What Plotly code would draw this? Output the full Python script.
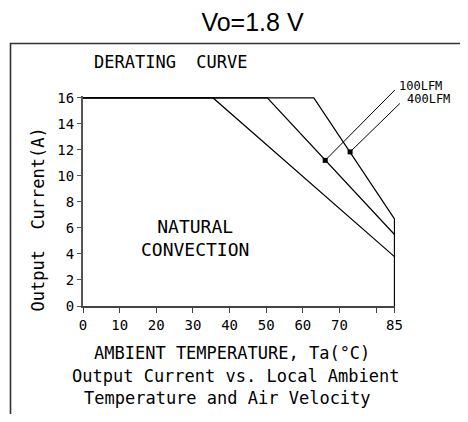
import plotly.graph_objects as go

# ---- data ----
nat_temp = [0, 35.5, 85]
nat_curr = [16, 16, 3.8]
lfm100_temp = [0, 50.3, 85]
lfm100_curr = [16, 16, 5.5]
lfm400_temp = [0, 63.0, 85, 85]
lfm400_curr = [16, 16, 6.7, 0]

dot_temp = [66.1, 72.9]
dot_curr = [11.2, 11.85]
leader_end_temp = [85.5, 86.9]
leader_end_curr = [16.72, 15.69]
leader_labels = ["100LFM", "400LFM"]

x_tickvals = [0, 10, 20, 30, 40, 50, 60, 70, 80, 85]
x_ticktext = ["0", "10", "20", "30", "40", "50", "60", "70", "", "85"]
y_tickvals = [0, 2, 4, 6, 8, 10, 12, 14, 16]

# page body has an 8px margin, so figure coords = page coords - 8;
# figure size chosen so the page does not overflow the 468x422 window
OFF = 8
W, H = 468 - 2 * OFF, 422 - 2 * OFF
L, T = 83 - OFF, 96 - OFF
PW, PH = 312, 210
R, B = W - L - PW, H - T - PH


def px(x):
    return (x - OFF - L) / PW


def py(y):
    return (T + PH - (y - OFF)) / PH


CAD = "DejaVu Sans Mono, monospace"
line_style = dict(color="black", width=1.2)

fig = go.Figure()
for xs, ys in [(nat_temp, nat_curr), (lfm100_temp, lfm100_curr), (lfm400_temp, lfm400_curr)]:
    fig.add_trace(go.Scatter(x=xs, y=ys, mode="lines", line=line_style,
                             showlegend=False, hoverinfo="skip"))

fig.add_trace(go.Scatter(x=dot_temp, y=dot_curr, mode="markers",
                         marker=dict(color="black", size=5, symbol="square"),
                         showlegend=False, hoverinfo="skip", cliponaxis=False))

annotations = []
for i in range(len(dot_temp)):
    annotations.append(dict(x=dot_temp[i], y=dot_curr[i], xref="x", yref="y",
                            ax=leader_end_temp[i], ay=leader_end_curr[i],
                            axref="x", ayref="y", text="", showarrow=True,
                            arrowhead=0, arrowwidth=1, arrowcolor="black",
                            standoff=0, startstandoff=0))
label_pos = [(397, 86), (405, 99)]
for (lx, ly), t in zip(label_pos, leader_labels):
    annotations.append(dict(x=px(lx), y=py(ly), xref="paper", yref="paper",
                            text=t, showarrow=False, xanchor="left", yanchor="middle",
                            font=dict(family=CAD, size=12, color="black")))

annotations += [
    dict(x=px(92), y=py(62), xref="paper", yref="paper", text="DERATING  CURVE",
         showarrow=False, xanchor="left", yanchor="middle",
         font=dict(family=CAD, size=17, color="black")),
    dict(x=px(195), y=py(238), xref="paper", yref="paper",
         text="NATURAL<br>CONVECTION", showarrow=False, xanchor="center",
         yanchor="middle", font=dict(family=CAD, size=18, color="black")),
    dict(x=px(37.5), y=py(220), xref="paper", yref="paper",
         text="Output  Current(A)", showarrow=False, textangle=-90,
         xanchor="center", yanchor="middle",
         font=dict(family=CAD, size=17, color="black")),
    dict(x=px(232), y=py(353), xref="paper", yref="paper",
         text="AMBIENT TEMPERATURE, Ta(°C)", showarrow=False,
         xanchor="center", yanchor="middle",
         font=dict(family=CAD, size=17, color="black")),
    dict(x=px(236), y=py(376), xref="paper", yref="paper",
         text="Output Current vs. Local Ambient", showarrow=False,
         xanchor="center", yanchor="middle",
         font=dict(family=CAD, size=17, color="black")),
    dict(x=px(227), y=py(398), xref="paper", yref="paper",
         text="Temperature and Air Velocity", showarrow=False,
         xanchor="center", yanchor="middle",
         font=dict(family=CAD, size=17, color="black")),
]

# open frame: only the top and left edges are visible in the reference
fx0, fx1, fy_top, fy_bot = px(10.5), px(490), py(43.5), py(450)
shapes = [dict(type="path", xref="paper", yref="paper",
               path=f"M {fx1},{fy_top} L {fx0},{fy_top} L {fx0},{fy_bot}",
               line=dict(color="#333333", width=1.6), layer="below")]

fig.update_layout(
    width=W, height=H,
    margin=dict(l=L, r=R, t=T, b=B),
    paper_bgcolor="white", plot_bgcolor="white",
    title=dict(text="Vo=1.8 V", x=(252.5 - OFF) / W, xref="container", xanchor="center",
               y=1 - (22 - OFF) / H, yref="container", yanchor="middle",
               font=dict(family="Liberation Sans, Arial, sans-serif", size=25, color="black")),
    annotations=annotations,
    shapes=shapes,
    xaxis=dict(range=[0, 85.15], tickvals=x_tickvals, ticktext=x_ticktext,
               showgrid=False, zeroline=False, showline=True, linecolor="#444444",
               linewidth=1.5, ticks="outside", ticklen=5, tickcolor="#444444",
               tickwidth=1.2, ticklabelstandoff=0,
               tickfont=dict(family=CAD, size=14, color="black"), fixedrange=True),
    yaxis=dict(range=[0, 16.15], tickvals=y_tickvals,
               showgrid=False, zeroline=False, showline=True, linecolor="#555555",
               linewidth=2, ticks="outside", ticklen=4, tickcolor="#555555",
               tickwidth=1.2, ticklabelstandoff=0,
               tickfont=dict(family=CAD, size=14, color="black"), fixedrange=True),
)

fig.write_html("out.html")
